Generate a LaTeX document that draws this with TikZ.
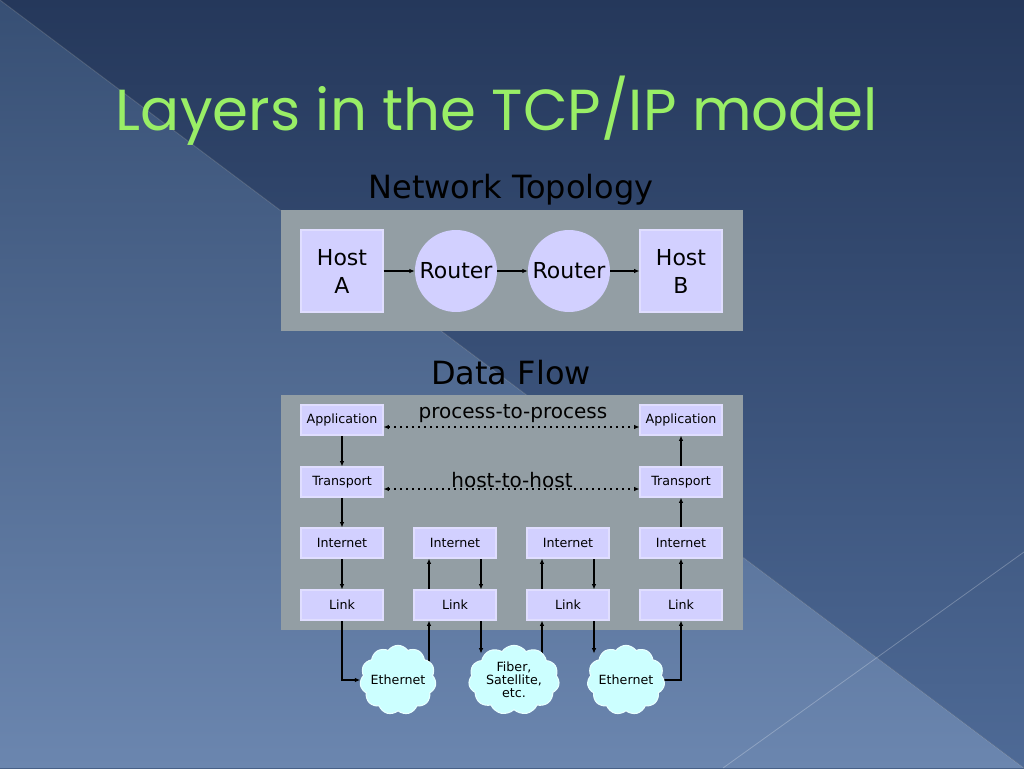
\documentclass[tikz,border=0pt]{standalone}
\usepackage{fontspec}
\setmainfont{DejaVu Sans}
\newfontfamily\titlefont{Poppins}
\usetikzlibrary{positioning,arrows.meta,shapes.symbols,backgrounds}
\pgfdeclarelayer{lines}
\pgfsetlayers{background,lines,main}
\definecolor{cbgtop}{HTML}{25385B}
\definecolor{cbgbot}{HTML}{4E6A96}
\definecolor{cfloortop}{HTML}{374F74}
\definecolor{cfloorbot}{HTML}{6B86AF}
\definecolor{cpanel}{HTML}{939EA4}
\definecolor{clayer}{HTML}{D2D0FF}
\definecolor{clayerln}{HTML}{E0DEFF}
\definecolor{ccloud}{HTML}{CCFFFF}
\definecolor{ccloudln}{HTML}{E8FFFF}
\definecolor{ctitle}{HTML}{99EE66}

\begin{document}
\begin{tikzpicture}[x=0.75pt,y=-0.75pt,>={Latex[length=4pt,width=3.4pt]},
  layer/.style={draw=clayerln,line width=0.8pt,fill=clayer,minimum width=61.5pt,
    minimum height=22.5pt,inner sep=0pt,font=\fontsize{9.5}{10}\selectfont},
  host/.style={layer,minimum size=61.5pt,align=center,font=\fontsize{16.5}{21}\selectfont},
  router/.style={circle,fill=clayer,minimum size=61.5pt,inner sep=0pt,
    font=\fontsize{16.5}{20}\selectfont},
  net/.style={cloud,cloud puffs=11,cloud puff arc=110,draw=ccloudln,line width=0.8pt,
    fill=ccloud,aspect=1.1,inner xsep=-6pt,inner ysep=0pt,minimum width=57pt,
    minimum height=52pt,align=center,font=\fontsize{9.5}{9.8}\selectfont},
  head/.style={anchor=base,font=\fontsize{24}{28}\selectfont},
  flow/.style={->,line width=0.9pt},
  peer/.style={<->,dash pattern=on 1.2pt off 3.3pt,line width=0.9pt}]
\useasboundingbox (0,0) rectangle (1024,768);
% slide backdrop
\begin{pgfonlayer}{background}
\fill[top color=cbgtop,bottom color=cbgbot] (0,0) rectangle (1024,768);
\fill[top color=cfloortop,bottom color=cfloorbot] (0,0) -- (1024,768) -- (0,768) -- cycle;
\draw[white,opacity=0.18,line width=0.6pt] (0,0) -- (1024,768);
\draw[white,opacity=0.25,line width=0.6pt] (1024,552) -- (723,768);
\fill[cpanel] (281,210) rectangle (743,331);
\fill[cpanel] (281,395) rectangle (743,630);
\end{pgfonlayer}
% title
\node[anchor=base,ctitle,font=\titlefont\fontsize{43.4}{48}\selectfont] (title) at (497,130)
  {Layers in the TCP/IP model};
% network topology
\node[head] (toph) at (511,198) {Network Topology};
\node[host]   (hosta) at (342,271) {Host\\A};
\node[router] (rt1)   at (456,271) {Router};
\node[router] (rt2)   at (569,271) {Router};
\node[host]   (hostb) at (681,271) {Host\\B};
\draw[flow] (hosta) -- (rt1);
\draw[flow] (rt1) -- (rt2);
\draw[flow] (rt2) -- (hostb);
% data flow
\node[head] (flowh) at (511,384) {Data Flow};
\node[layer] (app1) at (342,420) {Application};
\node[layer] (tra1) at (342,482) {Transport};
\node[layer] (int1) at (342,543) {Internet};
\node[layer] (lnk1) at (342,605) {Link};
\node[layer] (int2) at (455,543) {Internet};
\node[layer] (lnk2) at (455,605) {Link};
\node[layer] (int3) at (568,543) {Internet};
\node[layer] (lnk3) at (568,605) {Link};
\node[layer] (app4) at (681,420) {Application};
\node[layer] (tra4) at (681,482) {Transport};
\node[layer] (int4) at (681,543) {Internet};
\node[layer] (lnk4) at (681,605) {Link};
\node[net]   (eth1) at (398,680) {Ethernet};
\node[net,aspect=1.3,inner xsep=-4pt,inner ysep=-4pt,minimum width=68pt] (fib) at (514,680)
  {Fiber,\\Satellite,\\etc.};
\node[net,minimum width=58pt]   (eth2) at (626,680) {Ethernet};
\node[anchor=base,font=\fontsize{15}{18}\selectfont] (p2p) at (513,418) {process-to-process};
\node[anchor=base,font=\fontsize{15}{18}\selectfont] (h2h) at (512,487) {host-to-host};
\begin{pgfonlayer}{lines}
\draw[peer] ([yshift=-5.25pt]app1.east) -- ([yshift=-5.25pt]app4.west);
\draw[peer] ([yshift=-5.25pt]tra1.east) -- ([yshift=-5.25pt]tra4.west);
\draw[flow] (app1) -- (tra1);
\draw[flow] (tra1) -- (int1);
\draw[flow] (int1) -- (lnk1);
\draw[flow] (lnk4) -- (int4);
\draw[flow] (int4) -- (tra4);
\draw[flow] (tra4) -- (app4);
\draw[flow] ([xshift=-19.5pt]lnk2.north) -- ([xshift=-19.5pt]int2.south);
\draw[flow] ([xshift=19.5pt]int2.south) -- ([xshift=19.5pt]lnk2.north);
\draw[flow] ([xshift=-19.5pt]lnk3.north) -- ([xshift=-19.5pt]int3.south);
\draw[flow] ([xshift=19.5pt]int3.south) -- ([xshift=19.5pt]lnk3.north);
% links to media
\draw[flow] (lnk1.south) |- (eth1.west);
\draw[flow] ([xshift=-19.5pt]lnk2.south |- eth1.center) -- ([xshift=-19.5pt]lnk2.south);
\draw[flow] ([xshift=19.5pt]lnk2.south) -- ++(0,33);
\draw[flow] ([xshift=-19.5pt]lnk3.south |- fib.center) -- ([xshift=-19.5pt]lnk3.south);
\draw[flow] ([xshift=19.5pt]lnk3.south) -- ++(0,33);
\draw[flow] (eth2.east) -| (lnk4.south);
\end{pgfonlayer}
\end{tikzpicture}
\end{document}
